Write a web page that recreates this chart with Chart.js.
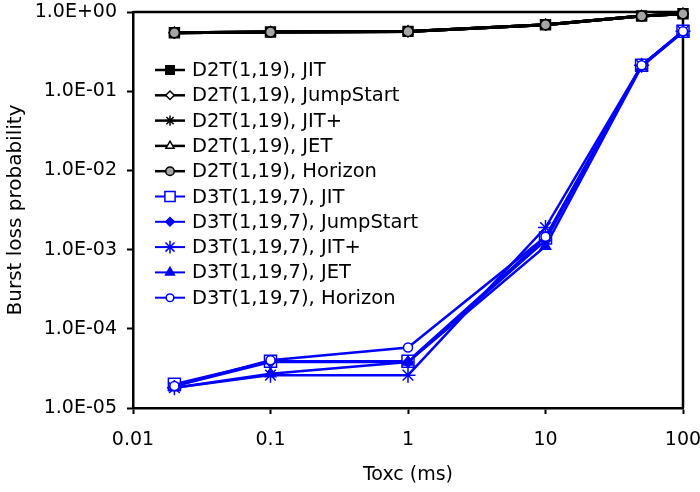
<!DOCTYPE html>
<html>
<head>
<meta charset="utf-8">
<title>Burst loss probability vs Toxc</title>
<script src="https://cdn.jsdelivr.net/npm/chart.js@4.4.1/dist/chart.umd.min.js"></script>
<style>
    html, body { margin: 0; padding: 0; background: #fff; }
    canvas { display: block; }
</style>
</head>
<body>
<canvas id="lossChart" width="700" height="492"></canvas>
<script>
// Offset times (ms) and axis ticks
const toxc = [0.02, 0.1, 1, 10, 50, 100];
const xTickValues = [0.01, 0.1, 1, 10, 100];
const yTickValues = [1e-5, 1e-4, 1e-3, 1e-2, 1e-1, 1];

// D2T(1,19) results
const d2tJit       = [0.548, 0.559, 0.569, 0.691, 0.890, 0.952];
const d2tJumpStart = [0.548, 0.559, 0.569, 0.691, 0.890, 0.952];
const d2tJitPlus   = [0.548, 0.559, 0.569, 0.691, 0.890, 0.952];
const d2tJet       = [0.548, 0.559, 0.569, 0.691, 0.890, 0.952];
const d2tHorizon   = [0.548, 0.559, 0.569, 0.691, 0.890, 0.952];

// D3T(1,19,7) results
const d3tJit       = [2.0e-5, 3.9e-5, 3.9e-5, 1.40e-3, 0.213, 0.57];
const d3tJumpStart = [1.9e-5, 3.8e-5, 3.8e-5, 1.30e-3, 0.210, 0.56];
const d3tJitPlus   = [1.8e-5, 2.6e-5, 2.6e-5, 1.90e-3, 0.212, 0.57];
const d3tJet       = [1.8e-5, 2.7e-5, 3.8e-5, 1.10e-3, 0.205, 0.56];
const d3tHorizon   = [1.9e-5, 4.0e-5, 5.8e-5, 1.45e-3, 0.212, 0.57];

const FONT = 'DejaVu Sans';
const BLUE = '#0000ff';

function series(label, data, color, style, radius, fill, lineWidth) {
    return {
        label: label,
        data: data.map((v, i) => ({ x: toxc[i], y: v })),
        borderColor: color,
        borderWidth: lineWidth,
        pointStyle: style,
        pointRadius: radius,
        pointHoverRadius: radius,
        pointBackgroundColor: fill,
        pointBorderColor: color,
        pointBorderWidth: 1.5,
        tension: 0,
        clip: false
    };
}

const datasets = [
    series('D2T(1,19), JIT',        d2tJit,       '#000', 'rect',     7,   '#000',    3),
    series('D2T(1,19), JumpStart',  d2tJumpStart, '#000', 'rectRot',  5,   '#fff',    3),
    series('D2T(1,19), JIT+',       d2tJitPlus,   '#000', 'star',     6,   '#000',    3),
    series('D2T(1,19), JET',        d2tJet,       '#000', 'triangle', 5.5, '#fff',    3),
    series('D2T(1,19), Horizon',    d2tHorizon,   '#000', 'circle',   5,   '#a6a6a6', 3),
    series('D3T(1,19,7), JIT',      d3tJit,       BLUE,   'rect',     8.5, '#fff',    2.5),
    series('D3T(1,19,7), JumpStart',d3tJumpStart, BLUE,   'rectRot',  5,   BLUE,      2.5),
    series('D3T(1,19,7), JIT+',     d3tJitPlus,   BLUE,   'star',     7.5, BLUE,      2.5),
    series('D3T(1,19,7), JET',      d3tJet,       BLUE,   'triangle', 6,   BLUE,      2.5),
    series('D3T(1,19,7), Horizon',  d3tHorizon,   BLUE,   'circle',   4.5, '#fff',    2.5)
];
// later series sit on top of earlier ones
datasets.forEach((ds, i) => { ds.order = datasets.length - i; });

function sciLabel(v) {
    const exp = Math.round(Math.log10(v));
    const sign = exp < 0 ? '-' : '+';
    return '1.0E' + sign + String(Math.abs(exp)).padStart(2, '0');
}

// top and right edges of the plot box
const frame = {
    id: 'frame',
    beforeDatasetsDraw(chart) {
        const { ctx, chartArea: a } = chart;
        ctx.save();
        ctx.strokeStyle = '#000';
        ctx.lineWidth = 2.5;
        ctx.beginPath();
        ctx.moveTo(a.left, a.top);
        ctx.lineTo(a.right, a.top);
        ctx.lineTo(a.right, a.bottom);
        ctx.stroke();
        ctx.restore();
    }
};

// legend drawn inside the plot area, top left
const insideLegend = {
    id: 'insideLegend',
    afterDatasetsDraw(chart) {
        const { ctx, chartArea: a } = chart;
        const x0 = a.left + 22;
        const y0 = a.top + 58;
        ctx.save();
        ctx.font = '19.5px "' + FONT + '"';
        ctx.textBaseline = 'middle';
        ctx.textAlign = 'left';
        chart.data.datasets.forEach((ds, i) => {
            const y = y0 + i * 25.3;
            ctx.strokeStyle = ds.borderColor;
            ctx.lineWidth = ds.borderWidth - 0.5;
            ctx.beginPath();
            ctx.moveTo(x0, y);
            ctx.lineTo(x0 + 30, y);
            ctx.stroke();
            ctx.fillStyle = ds.pointBackgroundColor;
            ctx.strokeStyle = ds.pointBorderColor;
            ctx.lineWidth = ds.pointBorderWidth;
            Chart.helpers.drawPoint(ctx, {
                pointStyle: ds.pointStyle,
                radius: ds.pointRadius * 0.85,
                rotation: 0,
                borderWidth: ds.pointBorderWidth
            }, x0 + 15, y);
            ctx.fillStyle = '#000';
            ctx.fillText(ds.label, x0 + 37, y + 1);
        });
        ctx.restore();
    }
};

const ctx = document.getElementById('lossChart').getContext('2d');
const lossChart = new Chart(ctx, {
    type: 'line',
    data: { datasets: datasets },
    options: {
        responsive: false,
        animation: false,
        events: [],
        layout: { padding: { left: 0, right: 17, top: 12, bottom: 0 } },
        plugins: {
            legend: { display: false },
            tooltip: { enabled: false }
        },
        scales: {
            x: {
                type: 'logarithmic',
                min: 0.01,
                max: 100,
                afterBuildTicks: scale => {
                    scale.ticks = xTickValues.map(v => ({ value: v }));
                },
                afterFit: scale => {
                    scale.height = 84;
                    scale.paddingLeft = 0;
                    scale.paddingRight = 0;
                },
                border: { display: true, color: '#000', width: 2.5 },
                grid: {
                    drawOnChartArea: false,
                    drawTicks: true,
                    tickLength: 6,
                    tickWidth: 2,
                    tickColor: '#000'
                },
                ticks: {
                    color: '#000',
                    padding: 15,
                    maxRotation: 0,
                    autoSkip: false,
                    font: { family: FONT, size: 19 },
                    callback: v => String(v)
                },
                title: {
                    display: true,
                    text: 'Toxc (ms)',
                    color: '#000',
                    font: { family: FONT, size: 19 },
                    padding: { top: 0, bottom: 6 }
                }
            },
            y: {
                type: 'logarithmic',
                min: 1e-5,
                max: 1,
                afterBuildTicks: scale => {
                    scale.ticks = yTickValues.map(v => ({ value: v }));
                },
                afterFit: scale => {
                    scale.width = 133;
                    scale.paddingTop = 0;
                    scale.paddingBottom = 0;
                },
                border: { display: true, color: '#000', width: 2.5 },
                grid: {
                    drawOnChartArea: false,
                    drawTicks: true,
                    tickLength: 6,
                    tickWidth: 2,
                    tickColor: '#000'
                },
                ticks: {
                    color: '#000',
                    padding: 10,
                    autoSkip: false,
                    font: { family: FONT, size: 19 },
                    callback: v => sciLabel(v)
                },
                title: {
                    display: true,
                    text: 'Burst loss probability',
                    color: '#000',
                    font: { family: FONT, size: 20 },
                    padding: { top: 4, bottom: 0 }
                }
            }
        }
    },
    plugins: [frame, insideLegend]
});
</script>
</body>
</html>
